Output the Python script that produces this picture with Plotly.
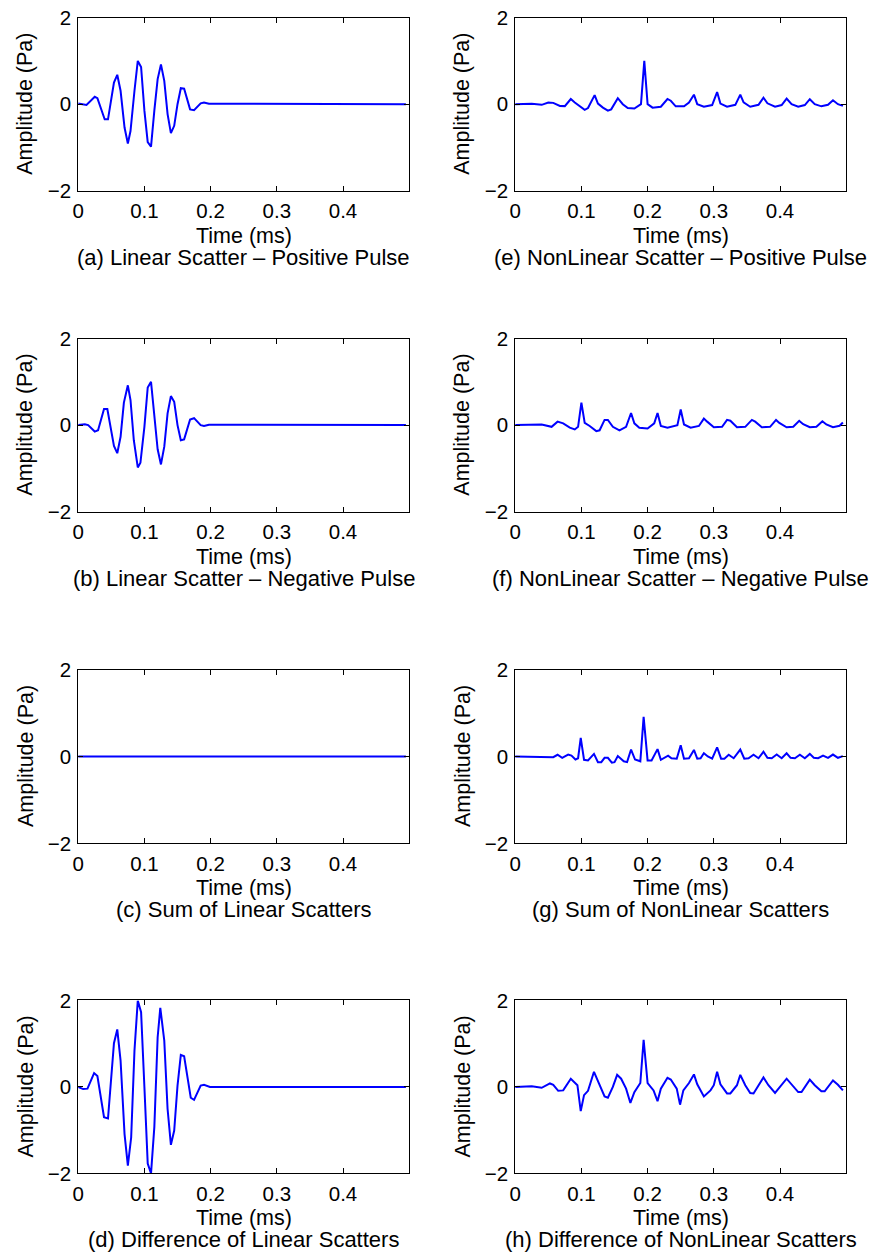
import plotly.graph_objects as go

# ---------------- data (time in ms, amplitude in Pa) ----------------
t_a = [0, 0.0125, 0.025, 0.029, 0.04, 0.045, 0.054, 0.059, 0.064, 0.07, 0.075, 0.079, 0.085, 0.09,
       0.095, 0.1, 0.105, 0.11, 0.115, 0.12, 0.125, 0.13, 0.135, 0.14, 0.145, 0.15, 0.155, 0.16,
       0.169, 0.175, 0.185, 0.19, 0.1975, 0.495]
amp_a = [0.015, -0.02, 0.17, 0.14, -0.35, -0.35, 0.5, 0.68, 0.31, -0.54, -0.91, -0.62, 0.31, 1.0,
         0.86, -0.15, -0.88, -0.98, -0.15, 0.58, 0.92, 0.54, -0.23, -0.67, -0.5, 0.0, 0.37, 0.36,
         -0.12, -0.14, 0.02, 0.04, 0.01, 0.0]

t_b = [0, 0.01, 0.015, 0.025, 0.03, 0.039, 0.044, 0.054, 0.059, 0.064, 0.069, 0.075, 0.079, 0.084,
       0.09, 0.094, 0.1, 0.105, 0.11, 0.115, 0.12, 0.125, 0.13, 0.135, 0.14, 0.145, 0.15, 0.155,
       0.16, 0.169, 0.175, 0.185, 0.19, 0.1975, 0.495]
amp_b = [0, 0.02, 0, -0.15, -0.12, 0.37, 0.37, -0.48, -0.65, -0.27, 0.52, 0.92, 0.58, -0.35,
         -0.98, -0.87, -0.04, 0.87, 1.0, 0.27, -0.56, -0.91, -0.5, 0.27, 0.67, 0.54, 0.0, -0.35,
         -0.33, 0.13, 0.16, 0.0, -0.02, 0.01, 0.0]

t_c = [0, 0.06, 0.07, 0.08, 0.09, 0.1, 0.11, 0.2, 0.495]
amp_c = [0, 0.0, -0.006, -0.01, -0.006, 0.0, 0.0, 0.0, 0.0]

t_d = [0, 0.0075, 0.014, 0.024, 0.029, 0.039, 0.045, 0.054, 0.059, 0.064, 0.07, 0.075, 0.08, 0.085,
       0.09, 0.095, 0.1, 0.105, 0.11, 0.115, 0.12, 0.124, 0.13, 0.135, 0.14, 0.145, 0.15, 0.155,
       0.16, 0.17, 0.175, 0.185, 0.19, 0.199, 0.495]
amp_d = [0, -0.05, -0.04, 0.32, 0.25, -0.70, -0.73, 1.01, 1.33, 0.61, -1.09, -1.82, -1.17, 0.84,
         2.0, 1.73, 0.0, -1.77, -2.0, -0.93, 1.15, 1.83, 1.07, -0.51, -1.34, -1.01, 0.03, 0.74,
         0.71, -0.25, -0.3, 0.03, 0.05, 0.0, 0.0]

t_e = [0, 0.025, 0.04, 0.05, 0.0575, 0.0675, 0.075, 0.084, 0.09, 0.0975, 0.105, 0.11, 0.12, 0.125,
       0.1325, 0.14, 0.145, 0.155, 0.1625, 0.17, 0.18, 0.19, 0.195, 0.2, 0.2075, 0.22, 0.23, 0.235,
       0.2425, 0.255, 0.2625, 0.27, 0.275, 0.285, 0.2975, 0.305, 0.31, 0.32, 0.3325, 0.34, 0.345,
       0.355, 0.3675, 0.375, 0.381, 0.3925, 0.4025, 0.41, 0.4175, 0.4275, 0.4375, 0.445, 0.4525,
       0.4625, 0.4725, 0.48, 0.4875, 0.495]
amp_e = [0, 0.01, -0.015, 0.04, 0.03, -0.04, -0.045, 0.12, 0.04, -0.04, -0.13, -0.09, 0.21, 0.015,
         -0.08, -0.15, -0.12, 0.14, 0.0, -0.09, -0.1, 0.0, 1.0, 0.0, -0.08, -0.06, 0.12, 0.08,
         -0.05, -0.05, 0.04, 0.22, 0.0, -0.06, -0.02, 0.28, 0.015, -0.06, -0.015, 0.22, 0.04,
         -0.06, -0.015, 0.15, 0.02, -0.06, -0.02, 0.13, 0.0, -0.06, -0.02, 0.115, 0.0,
         -0.05, -0.015, 0.09, 0.0, -0.04]

t_f = [0, 0.04, 0.055, 0.064, 0.0725, 0.0825, 0.09, 0.095, 0.1, 0.105, 0.1125, 0.1225, 0.1275,
       0.135, 0.14, 0.1475, 0.1575, 0.1675, 0.175, 0.18, 0.1875, 0.2, 0.21, 0.215, 0.22, 0.23,
       0.245, 0.25, 0.255, 0.265, 0.2775, 0.285, 0.29, 0.3, 0.3125, 0.32, 0.325, 0.335, 0.3475,
       0.3575, 0.3625, 0.3725, 0.385, 0.394, 0.399, 0.41, 0.42, 0.429, 0.435, 0.445, 0.455, 0.464,
       0.47, 0.48, 0.49, 0.495]
amp_f = [0, 0.015, -0.04, 0.08, 0.04, -0.06, -0.1, -0.04, 0.52, 0.05, -0.02, -0.14, -0.12,
         0.12, 0.12, -0.04, -0.12, -0.04, 0.28, 0.04, -0.06, -0.08, 0.04, 0.28, -0.02, -0.06,
         0.0, 0.36, 0.015, -0.06, -0.02, 0.15, 0.08, -0.05, -0.04, 0.12, 0.1, -0.05, -0.04,
         0.12, 0.08, -0.05, -0.04, 0.12, 0.05, -0.05, -0.04, 0.1, 0.02, -0.05, -0.04, 0.09,
         0.015, -0.05, -0.015, 0.06]

t_g = [0, 0.05, 0.0575, 0.064, 0.071, 0.08, 0.085, 0.091, 0.095, 0.099, 0.104, 0.11, 0.119, 0.125,
       0.13, 0.135, 0.14, 0.146, 0.15, 0.155, 0.164, 0.169, 0.175, 0.181, 0.189, 0.194, 0.2, 0.206,
       0.215, 0.22, 0.225, 0.231, 0.236, 0.244, 0.25, 0.255, 0.2625, 0.27, 0.275, 0.28, 0.285,
       0.291, 0.2975, 0.305, 0.311, 0.316, 0.3225, 0.33, 0.34, 0.346, 0.3525, 0.36, 0.3675, 0.375,
       0.381, 0.3875, 0.395, 0.4025, 0.41, 0.416, 0.4225, 0.43, 0.4375, 0.445, 0.451, 0.4575,
       0.465, 0.4725, 0.48, 0.4875, 0.495]
amp_g = [0, 0, -0.015, 0.04, -0.03, 0.045, 0.02, -0.07, -0.04, 0.43, -0.075, -0.09, 0.06, -0.13,
         -0.13, -0.03, -0.03, -0.14, -0.13, 0.01, -0.11, -0.13, 0.16, -0.07, -0.11, 0.91, -0.09,
         -0.09, 0.17, -0.075, -0.04, 0.02, -0.04, -0.05, 0.26, -0.05, -0.04, 0.15, -0.05, -0.04,
         0.075, 0.0, -0.05, 0.21, -0.05, -0.05, 0.04, -0.04, 0.16, -0.05, -0.04, 0.04, -0.04, 0.11,
         -0.03, -0.04, 0.045, -0.04, 0.075, -0.03, -0.04, 0.04, -0.04, 0.06, -0.03, -0.04,
         0.02, -0.03, 0.045, -0.03, 0.01]

t_h = [0, 0.025, 0.04, 0.0525, 0.0575, 0.065, 0.0725, 0.084, 0.094, 0.099, 0.104, 0.11, 0.119,
       0.1275, 0.135, 0.14, 0.1475, 0.154, 0.16, 0.1675, 0.174, 0.18, 0.189, 0.194, 0.2, 0.209,
       0.215, 0.22, 0.23, 0.235, 0.244, 0.249, 0.254, 0.2625, 0.27, 0.275, 0.285, 0.295, 0.3,
       0.305, 0.31, 0.32, 0.325, 0.335, 0.34, 0.3475, 0.355, 0.36, 0.375, 0.3825, 0.3925, 0.41,
       0.419, 0.4275, 0.4325, 0.445, 0.4525, 0.4625, 0.4675, 0.48, 0.4875, 0.495]
amp_h = [0, 0.015, -0.02, 0.08, 0.05, -0.09, -0.08, 0.19, 0.04, -0.56, -0.19, -0.09, 0.35, 0.06,
         -0.22, -0.25, 0.0, 0.28, 0.19, -0.04, -0.37, -0.12, 0.09, 1.09, 0.09, -0.08, -0.33,
         -0.04, 0.21, 0.17, -0.04, -0.41, -0.08, 0.09, 0.29, 0.06, -0.22, -0.08, 0.04, 0.35,
         0.06, -0.15, -0.15, 0.04, 0.28, 0.04, -0.14, -0.15, 0.22, 0.04, -0.14, 0.19, 0.04,
         -0.12, -0.12, 0.17, 0.04, -0.1, -0.1, 0.15, 0.05, -0.08]

captions = [
    "(a) Linear Scatter \u2013 Positive Pulse",
    "(b) Linear Scatter \u2013 Negative Pulse",
    "(c) Sum of Linear Scatters",
    "(d) Difference of Linear Scatters",
    "(e) NonLinear Scatter \u2013 Positive Pulse",
    "(f) NonLinear Scatter \u2013 Negative Pulse",
    "(g) Sum of NonLinear Scatters",
    "(h) Difference of NonLinear Scatters",
]
x_ticks = [0, 0.1, 0.2, 0.3, 0.4]
x_tick_labels = ["0", "0.1", "0.2", "0.3", "0.4"]
y_ticks = [-2, 0, 2]
y_tick_labels = ["\u22122", "0", "2"]
x_title = "Time (ms)"
y_title = "Amplitude (Pa)"

series = [(t_a, amp_a), (t_b, amp_b), (t_c, amp_c), (t_d, amp_d),
          (t_e, amp_e), (t_f, amp_f), (t_g, amp_g), (t_h, amp_h)]

# ---------------- layout geometry ----------------
W, H = 877, 1260
# target pixel positions in the final picture
col_px = [(76.7, 410.0), (516.7, 850.0)]
row_px = [(17, 190), (338, 511), (669, 843), (1000, 1173)]
# measured mapping from figure pixels to picture pixels (page offset / scaling)
SX, OX = 1.0, 4.0
SY, OY = 0.982, 11.3
FONT = "Liberation Sans, Arial, Helvetica, sans-serif"
FS = 21.5
FS_CAP = 22
FS_TICK = 20.5


def px_x(p):
    return ((p - OX) / SX) / W


def px_y(p):
    return 1 - ((p - OY) / SY) / H


fig = go.Figure()
annotations = []
for i, (tt, aa) in enumerate(series):
    col = i // 4
    row = i % 4
    k = i + 1
    xa = "x" if k == 1 else f"x{k}"
    ya = "y" if k == 1 else f"y{k}"
    fig.add_trace(go.Scatter(x=tt, y=aa, mode="lines",
                             line=dict(color="#0000FF", width=2),
                             xaxis=xa, yaxis=ya, showlegend=False,
                             hoverinfo="skip"))
    x0, x1 = col_px[col]
    top, bot = row_px[row]
    xdom = [px_x(x0), px_x(x1)]
    ydom = [px_y(bot), px_y(top)]
    axcommon = dict(showline=True, linecolor="black", linewidth=1, mirror="ticks",
                    ticks="inside", ticklen=5, tickcolor="black", tickwidth=1,
                    showgrid=False, zeroline=False, ticklabelstandoff=2,
                    tickfont=dict(family=FONT, size=FS_TICK, color="black"))
    fig.layout[("xaxis" if k == 1 else f"xaxis{k}")] = dict(
        domain=xdom, range=[0, 0.5], anchor=ya, tickvals=x_ticks,
        ticktext=x_tick_labels, **axcommon)
    fig.layout[("yaxis" if k == 1 else f"yaxis{k}")] = dict(
        domain=ydom, range=[-2, 2], anchor=xa, tickvals=y_ticks,
        ticktext=y_tick_labels, **axcommon)
    cx = px_x((x0 + x1) / 2)
    annotations.append(dict(text=x_title, x=cx, y=px_y(bot + 45),
                            xref="paper", yref="paper", showarrow=False,
                            xanchor="center", yanchor="middle",
                            font=dict(family=FONT, size=FS, color="black")))
    annotations.append(dict(text=captions[i], x=cx, y=px_y(bot + 66.5),
                            xref="paper", yref="paper", showarrow=False,
                            xanchor="center", yanchor="middle",
                            font=dict(family=FONT, size=FS_CAP, color="black")))
    annotations.append(dict(text=y_title, x=px_x(x0 - 53), y=px_y((top + bot) / 2),
                            xref="paper", yref="paper", showarrow=False, textangle=-90,
                            xanchor="center", yanchor="middle",
                            font=dict(family=FONT, size=FS, color="black")))

fig.update_layout(width=W, height=H, margin=dict(l=0, r=0, t=0, b=0),
                  paper_bgcolor="white", plot_bgcolor="white",
                  annotations=annotations)
fig.write_html("out.html")
